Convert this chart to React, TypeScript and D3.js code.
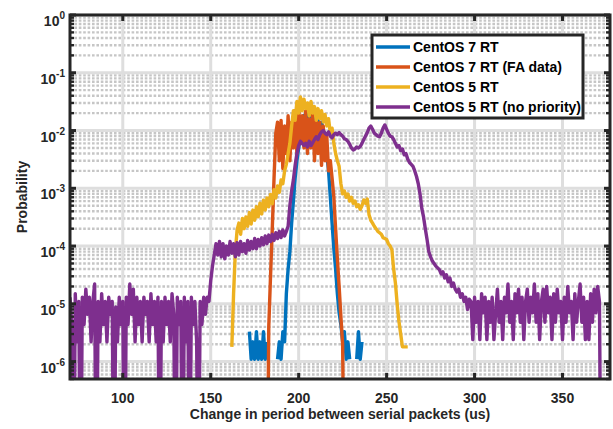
import React from 'react';
import * as d3 from 'd3';

// Layout of the figure
const W = 613;
const H = 429;
const PL = 70;
const PR = 610;
const PT = 15;
const PB = 379;

const xDomain = [70, 377];
const yDomain = [5e-7, 1];
const xTicks = [100, 150, 200, 250, 300, 350];
const yDecades = [0, -1, -2, -3, -4, -5, -6];

const seriesNames = ['CentOS 7 RT', 'CentOS 7 RT (FA data)', 'CentOS 5 RT', 'CentOS 5 RT (no priority)'];
const seriesColors = ['#0072BD', '#D95319', '#EDB120', '#7E2F8E'];

// Histogram bins are 1 us wide; each series lists its probabilities from its first bin.
// null = empty bin (line break), 0 = no samples (line falls off the axis).
const blueStart = 172;
const blueValues = [
  3.3e-6, 1.1e-6, 2.2e-6, 1.1e-6, 3.3e-6, 1.1e-6, 2.2e-6, 1.1e-6, 3.3e-6, 1.1e-6, 2.2e-6,
  null, null, null, null, null,
  1.1e-6, 2.2e-6, 1.1e-6, 3.3e-6, 2.2e-6, 1.5e-5, 4e-5, 8e-5, 2.5e-4, 6e-4, 1.5e-3, 3e-3,
  5e-3, 8e-3, 1.2e-2, 1.8e-2, 1.5e-2, 2.0e-2, 1.2e-2, 1.8e-2, 1.3e-2, 2.0e-2, 1.0e-2, 1.6e-2, 9e-3, 1.4e-2,
  1.0e-2, 6e-3, 4e-3, 2e-3, 7e-4, 2.5e-4, 9e-5, 4e-5, 1.5e-5, 7e-6, 4.4e-6, 2.2e-6, 3.3e-6, 1.1e-6, 2.2e-6, 1.1e-6,
  null, null, null,
  1.1e-6, 3.3e-6, 1.1e-6, 2.2e-6,
];

const orangeStart = 182;
const orangeValues = [
  0, 4e-6, 3e-5, 2e-4, 1.5e-3, 9e-3, 1.4e-2, 3e-3,
  1.5e-2, 2.2e-3, 1.2e-2, 4e-3, 1.8e-2, 3e-3, 1.4e-2, 5e-3, 2.2e-2, 4e-3,
  2.5e-2, 6e-3, 1.8e-2, 5e-3, 2.2e-2, 4e-3, 1.6e-2, 5e-3, 2e-2, 3e-3,
  1.5e-2, 4e-3, 1.4e-2, 2.5e-3, 1.2e-2, 3e-3, 8e-3, 2e-3, 3e-3, 1.5e-3,
  7e-4, 2e-4, 6e-5, 2e-5, 6e-6, 2e-6, 0,
];

const yellowStart = 162;
const yellowValues = [
  1.8e-6, 1.5e-5, 8e-5, 1.9e-4, 2.5e-4, 1.6e-4, 3e-4, 2e-4,
  3.2e-4, 2.2e-4, 3.8e-4, 2.4e-4, 4.2e-4, 2.8e-4, 4.8e-4, 3.2e-4, 5.5e-4, 3.6e-4,
  6.2e-4, 4.2e-4, 6.8e-4, 4.8e-4, 7.8e-4, 5.4e-4, 9.5e-4, 6.8e-4, 1.1e-3, 8.5e-4,
  1.4e-3, 1.2e-3, 2e-3, 2.6e-3, 4e-3, 6e-3, 1.2e-2, 2.2e-2, 1.5e-2, 3.2e-2,
  2e-2, 3.8e-2, 2.2e-2, 3.5e-2, 2.4e-2, 3e-2, 1.8e-2, 3.2e-2, 2e-2, 2.6e-2,
  1.5e-2, 2.4e-2, 1.6e-2, 2.2e-2, 1.4e-2, 1.9e-2, 1.2e-2, 1.6e-2, 9e-3, 1.1e-2,
  6e-3, 4e-3, 3e-3, 2.4e-3, 1.2e-3, 8e-4, 9e-4, 7e-4, 8e-4, 6e-4,
  7e-4, 5.5e-4, 6e-4, 4.8e-4, 5.2e-4, 4.3e-4, 5e-4, 6.3e-4, 5.5e-4, 6.5e-4,
  3.5e-4, 2.8e-4, 2.5e-4, 2.2e-4, 2e-4, 1.8e-4, 1.7e-4, 1.6e-4, 1.4e-4, 1.35e-4,
  1.3e-4, 1.1e-4, 1e-4, 8.6e-5, 4e-5, 2.3e-5, 1e-5, 5e-6, 3e-6, 1.8e-6,
  1.8e-6, 1.8e-6, 1.8e-6,
];

const purpleStart = 70;
const purpleValues = [
  1.3e-5, 4.4e-6, 0, 1.5e-5, 2.2e-6, 1.1e-5, 0, 1.3e-5, 4.4e-6, 1.8e-5,
  6.6e-6, 1.3e-5, 2.2e-6, 1.1e-5, 2.2e-5, 0, 1.1e-5, 2.2e-6, 1.5e-5, 4.4e-6,
  1.1e-5, 2.2e-6, 1.3e-5, 6.6e-6, 1.1e-5, 0, 8.8e-6, 2.2e-6, 1.3e-5, 4.4e-6,
  1.1e-5, 0, 1.3e-5, 4.4e-6, 2.2e-5, 6.6e-6, 1.8e-5, 2.2e-6, 1.3e-5, 4.4e-6,
  1.1e-5, 2.2e-6, 1.3e-5, 6.6e-6, 1.1e-5, 2.2e-6, 1.5e-5, 4.4e-6, 1.1e-5, 2.2e-6,
  1.3e-5, 0, 1.1e-5, 2.2e-6, 1.3e-5, 4.4e-6, 1.1e-5, 2.2e-6, 1.5e-5, 6.6e-6,
  0, 1.3e-5, 4.4e-6, 1.1e-5, 0, 1.3e-5, 2.2e-6, 1.1e-5, 0, 1.3e-5,
  4.4e-6, 1.1e-5, 2.2e-6, 0, 1.1e-5, 4.4e-6, 1.3e-5, 6.6e-6, 1.3e-5, 1.1e-5,
  2.5e-5, 4.5e-5, 7e-5, 1.1e-4, 7e-5, 1.2e-4, 6.5e-5, 1.1e-4, 6e-5, 1e-4,
  7e-5, 1.2e-4, 7.5e-5, 1.1e-4, 6.5e-5, 1.15e-4, 7e-5, 1.2e-4, 8e-5, 1.1e-4,
  7.5e-5, 1.25e-4, 8.5e-5, 1.2e-4, 9e-5, 1.35e-4, 9e-5, 1.3e-4, 1e-4, 1.4e-4,
  1.05e-4, 1.5e-4, 1.1e-4, 1.55e-4, 1.2e-4, 1.6e-4, 1.25e-4, 1.7e-4, 1.35e-4, 1.8e-4,
  1.4e-4, 1.9e-4, 1.5e-4, 1.8e-4, 2.2e-4, 5e-4, 9e-4, 1.4e-3, 2.5e-3, 4e-3,
  5.5e-3, 6.5e-3, 6e-3, 5.5e-3, 6e-3, 5.2e-3, 6.5e-3, 5.5e-3, 6.2e-3, 7e-3,
  7.8e-3, 7e-3, 8.5e-3, 9.5e-3, 1.0e-2, 9e-3, 8.5e-3, 9.5e-3, 8e-3, 7.5e-3,
  8.5e-3, 9e-3, 8.5e-3, 9.2e-3, 8.5e-3, 8e-3, 7.2e-3, 7e-3, 6.5e-3, 5.8e-3,
  5e-3, 4.6e-3, 4.8e-3, 5.2e-3, 5e-3, 5.3e-3, 6e-3, 7e-3, 8e-3, 9.2e-3,
  1.1e-2, 1.2e-2, 1.05e-2, 9e-3, 8.5e-3, 8e-3, 7.8e-3, 9e-3, 1.1e-2, 1.25e-2,
  1.05e-2, 9e-3, 8e-3, 7.8e-3, 7e-3, 6e-3, 5.2e-3, 5.5e-3, 4.5e-3, 4.8e-3,
  3.8e-3, 4e-3, 3.2e-3, 2.8e-3, 2.6e-3, 2.4e-3, 2e-3, 1.6e-3, 1.2e-3, 8e-4,
  4.5e-4, 3.2e-4, 2e-4, 1.3e-4, 8e-5, 6.5e-5, 5.5e-5, 5e-5, 4.5e-5, 4.2e-5,
  3.9e-5, 3.3e-5, 3.6e-5, 2.8e-5, 3.2e-5, 2.4e-5, 2.8e-5, 2e-5, 2.3e-5, 1.8e-5,
  1.6e-5, 1.8e-5, 1.3e-5, 1.5e-5, 1.1e-5, 1.3e-5, 8e-6, 1.2e-5, 1.1e-5, 2.4e-6,
  1.3e-5, 4.8e-6, 1.1e-5, 2.4e-6, 1.5e-5, 7e-6, 1.3e-5, 2.4e-6, 1.1e-5, 4.8e-6,
  1.3e-5, 2.4e-6, 7e-6, 1.8e-5, 4.8e-6, 1.1e-5, 2.4e-6, 1.3e-5, 7e-6, 2.2e-5,
  4.8e-6, 1.1e-5, 2.4e-6, 1.5e-5, 7e-6, 1.8e-5, 4.8e-6, 1.3e-5, 2.4e-6, 1.1e-5,
  1.8e-5, 4.8e-6, 1.3e-5, 7e-6, 2.2e-5, 4.8e-6, 1.5e-5, 2.4e-6, 1.1e-5, 1.8e-5,
  4.8e-6, 2.0e-5, 7e-6, 1.3e-5, 2.4e-6, 1.5e-5, 4.8e-6, 1.8e-5, 7e-6, 1.1e-5,
  2.4e-6, 1.3e-5, 4.8e-6, 2.0e-5, 7e-6, 1.1e-5, 2.4e-6, 1.5e-5, 4.8e-6, 1.1e-5,
  2.2e-5, 4.8e-6, 1.3e-5, 2.4e-6, 1.1e-5, 2.4e-6, 1.5e-5, 4.8e-6, 1.8e-5, 7e-6,
  2.0e-5, 1.1e-5, 0,
];

const seriesData = [
  { start: blueStart, values: blueValues },
  { start: orangeStart, values: orangeValues },
  { start: yellowStart, values: yellowValues },
  { start: purpleStart, values: purpleValues },
];

const FONT = '"Liberation Sans", Arial, Helvetica, sans-serif';
const AXIS = '#262626';
const LINE_W = 3.4;

export default function App() {
  const x = d3.scaleLinear().domain(xDomain).range([PL, PR]);
  const y = d3.scaleLog().domain(yDomain).range([PB, PT]);
  const floorVal = 1e-9; // empty bins are drawn below the axis and clipped

  type Pt = { x: number; v: number | null };
  const line = d3
    .line<Pt>()
    .defined((d) => d.v !== null)
    .x((d) => x(d.x))
    .y((d) => y(d.v === 0 ? floorVal : (d.v as number)));

  const minorY: number[] = [];
  for (let e = -7; e < 0; e++) {
    for (let m = 2; m <= 9; m++) {
      const v = m * Math.pow(10, e);
      if (v >= yDomain[0] && v < yDomain[1]) minorY.push(v);
    }
  }

  return (
    <svg width={W} height={H} style={{ position: 'absolute', left: 0, top: 0, background: '#fff' }}>
      <defs>
        <clipPath id="plotArea">
          <rect x={PL} y={PT} width={PR - PL} height={PB - PT} />
        </clipPath>
      </defs>
      <rect x={0} y={0} width={W} height={H} fill="#fff" />

      {/* minor grid */}
      <g clipPath="url(#plotArea)">
        {minorY.map((v) => (
          <line key={'mg' + v} x1={PL} x2={PR} y1={y(v)} y2={y(v)} stroke="#c6c6c6" strokeWidth={2.4} strokeDasharray="2.6 1.8" />
        ))}
      </g>
      {/* major grid */}
      <g>
        {yDecades.map((e) => (
          <line key={'gy' + e} x1={PL} x2={PR} y1={y(Math.pow(10, e))} y2={y(Math.pow(10, e))} stroke="#dedede" strokeWidth={3} />
        ))}
        {xTicks.map((t) => (
          <line key={'gx' + t} x1={x(t)} x2={x(t)} y1={PT} y2={PB} stroke="#dedede" strokeWidth={3} />
        ))}
      </g>

      {/* data */}
      <g clipPath="url(#plotArea)" fill="none" strokeWidth={LINE_W} strokeLinejoin="round">
        {seriesData.map((s, i) => (
          <path
            key={seriesNames[i]}
            d={line(s.values.map((v, k) => ({ x: s.start + k, v }))) || ''}
            stroke={seriesColors[i]}
          />
        ))}
      </g>

      {/* ticks */}
      <g stroke={AXIS}>
        {yDecades.map((e) => (
          <g key={'ty' + e}>
            <line x1={PL} x2={PL + 6} y1={y(Math.pow(10, e))} y2={y(Math.pow(10, e))} strokeWidth={3} />
            <line x1={PR} x2={PR - 6} y1={y(Math.pow(10, e))} y2={y(Math.pow(10, e))} strokeWidth={3} />
          </g>
        ))}
        {minorY.map((v) => (
          <g key={'tm' + v}>
            <line x1={PL} x2={PL + 4} y1={y(v)} y2={y(v)} strokeWidth={2.4} />
            <line x1={PR} x2={PR - 4} y1={y(v)} y2={y(v)} strokeWidth={2.4} />
          </g>
        ))}
        {xTicks.map((t) => (
          <g key={'tx' + t}>
            <line x1={x(t)} x2={x(t)} y1={PB} y2={PB - 6} strokeWidth={3} />
            <line x1={x(t)} x2={x(t)} y1={PT} y2={PT + 6} strokeWidth={3} />
          </g>
        ))}
      </g>
      <rect x={PL} y={PT} width={PR - PL} height={PB - PT} fill="none" stroke={AXIS} strokeWidth={3} />

      {/* tick labels */}
      <g fontFamily={FONT} fontWeight="bold" fill={AXIS}>
        {xTicks.map((t) => (
          <text key={'lx' + t} x={x(t)} y={403} textAnchor="middle" fontSize={14}>
            {t}
          </text>
        ))}
        {yDecades.map((e) => (
          <text key={'ly' + e} x={65} y={y(Math.pow(10, e)) + 11} textAnchor="end" fontSize={14}>
            10
            <tspan fontSize={10} dy={-7}>
              {e}
            </tspan>
          </text>
        ))}
      </g>

      {/* axis labels */}
      <text x={(PL + PR) / 2} y={419} textAnchor="middle" fontFamily={FONT} fontWeight="bold" fontSize={14} fill={AXIS}>
        Change in period between serial packets (us)
      </text>
      <text
        transform={`translate(27,${(PT + PB) / 2}) rotate(-90)`}
        textAnchor="middle"
        fontFamily={FONT}
        fontWeight="bold"
        fontSize={14}
        fill={AXIS}
      >
        Probability
      </text>

      {/* legend */}
      <g>
        <rect x={372} y={35} width={211} height={83} fill="#fff" stroke={AXIS} strokeWidth={3} />
        {seriesNames.map((n, i) => (
          <g key={'lg' + n}>
            <line x1={376} x2={410} y1={47 + i * 20} y2={47 + i * 20} stroke={seriesColors[i]} strokeWidth={LINE_W} />
            <text x={413} y={52 + i * 20} fontFamily={FONT} fontWeight="bold" fontSize={14} fill="#000">
              {n}
            </text>
          </g>
        ))}
      </g>
    </svg>
  );
}
